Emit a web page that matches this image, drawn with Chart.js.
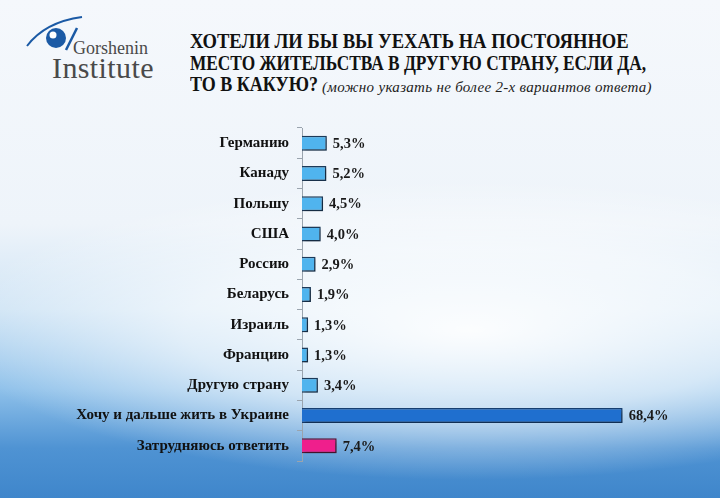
<!DOCTYPE html>
<html>
<head>
<meta charset="utf-8">
<script src="https://cdn.jsdelivr.net/npm/chart.js@4.4.1/dist/chart.umd.min.js"></script>
<style>
  html, body { margin: 0; padding: 0; }
  body {
    width: 720px; height: 498px; position: relative; overflow: hidden;
    background:
      radial-gradient(ellipse 520px 150px at 470px 330px, rgba(255,255,255,0.95) 0%, rgba(255,255,255,0.6) 55%, rgba(255,255,255,0) 100%),
      linear-gradient(to bottom, #f5f8fc 0%, #eef4fa 45%, #cfe4f5 62%, #8fc1ea 78%, #4f93d3 90%, #3f86cb 100%);
  }
  #wrap { position: absolute; left: 0; top: 0; width: 720px; height: 498px; }
  .tl {
    position: absolute; left: 190px;
    font-family: 'Liberation Serif', serif; font-weight: bold; font-size: 20px;
    color: #111; white-space: nowrap; transform-origin: left top;
  }
  #sub {
    position: absolute; left: 322px; top: 79px;
    font-family: 'Liberation Serif', serif; font-style: italic; font-size: 15px;
    color: #222; white-space: nowrap; letter-spacing: 0.3px;
  }
  #logo { position: absolute; left: 0; top: 0; }
</style>
</head>
<body>
<svg id="logo" width="170" height="90">
  <path d="M27 46 Q45 22 82 17" stroke="#1b5aa5" stroke-width="2" fill="none"/>
  <circle cx="56" cy="38" r="10" fill="#1b5aa5"/>
  <circle cx="53" cy="35" r="3.5" fill="#fff"/>
  <path d="M66 50 L77 28" stroke="#1b5aa5" stroke-width="2.5" fill="none"/>
  <text x="73" y="54" font-family="Liberation Serif" font-size="18" fill="#4a4a4a">Gorshenin</text>
  <text x="52" y="78" font-family="Liberation Serif" font-size="30" letter-spacing="0.4" fill="#4a4a4a">Institute</text>
</svg>
<div class="tl" style="top:30px; transform: scaleX(0.93)">ХОТЕЛИ ЛИ БЫ ВЫ УЕХАТЬ НА ПОСТОЯННОЕ</div>
<div class="tl" style="top:52px; transform: scaleX(0.865)">МЕСТО ЖИТЕЛЬСТВА В ДРУГУЮ СТРАНУ, ЕСЛИ ДА,</div>
<div class="tl" style="top:73px; transform: scaleX(0.9)">ТО В КАКУЮ?</div>
<div id="sub">(можно указать не более 2-х вариантов ответа)</div>
<div id="wrap"><canvas id="myChart" width="720" height="498"></canvas></div>
<script>
const categories = ['Германию', 'Канаду', 'Польшу', 'США', 'Россию', 'Беларусь', 'Израиль',
    'Францию', 'Другую страну', 'Хочу и дальше жить в Украине', 'Затрудняюсь ответить'];
const values = [5.3, 5.2, 4.5, 4.0, 2.9, 1.9, 1.3, 1.3, 3.4, 68.4, 7.4];
const valueLabels = ['5,3%', '5,2%', '4,5%', '4,0%', '2,9%', '1,9%', '1,3%', '1,3%', '3,4%', '68,4%', '7,4%'];

const fills = values.map((v, i) => i === 9 ? '#1f6fcf' : i === 10 ? '#ef1f8c' : '#50b4ee');
const borders = values.map((v, i) => i === 9 ? '#173f70' : i === 10 ? '#5a1838' : '#1d3b5a');

const barShadow = {
    id: 'barShadow',
    beforeDatasetDraw(chart) {
        const ctx = chart.ctx;
        ctx.save();
        ctx.shadowColor = 'rgba(0,0,0,0.35)';
        ctx.shadowOffsetX = 2;
        ctx.shadowOffsetY = 2;
        ctx.shadowBlur = 3;
    },
    afterDatasetDraw(chart) {
        chart.ctx.restore();
    }
};

const valueText = {
    id: 'valueText',
    afterDatasetsDraw(chart) {
        const ctx = chart.ctx;
        ctx.save();
        ctx.font = "bold 14.5px 'Liberation Serif'";
        ctx.fillStyle = '#1a1a1a';
        ctx.textBaseline = 'middle';
        chart.getDatasetMeta(0).data.forEach((bar, i) => {
            ctx.fillText(valueLabels[i], bar.x + 6, bar.y + 1);
        });
        ctx.restore();
    }
};

const ctx = document.getElementById('myChart');
new Chart(ctx, {
    type: 'bar',
    data: {
        labels: categories,
        datasets: [{
            data: values,
            backgroundColor: fills,
            borderColor: borders,
            borderWidth: 1.5,
            barPercentage: 0.55,
            categoryPercentage: 0.9
        }]
    },
    options: {
        indexAxis: 'y',
        responsive: false,
        animation: false,
        layout: { padding: { top: 128, bottom: 37, left: 0, right: 43 } },
        scales: {
            x: { display: false, min: 0, max: 80 },
            y: {
                afterFit(scale) { scale.width = 302; },
                border: { display: true, color: '#9aa4ae', width: 1 },
                grid: { drawOnChartArea: false, tickLength: 5, color: '#9aa4ae', offset: true },
                ticks: {
                    padding: 8,
                    color: '#111',
                    font: { family: "'Liberation Serif'", weight: 'bold', size: 15 }
                }
            }
        },
        plugins: {
            legend: { display: false },
            tooltip: { enabled: false }
        }
    },
    plugins: [barShadow, valueText]
});
</script>
</body>
</html>
